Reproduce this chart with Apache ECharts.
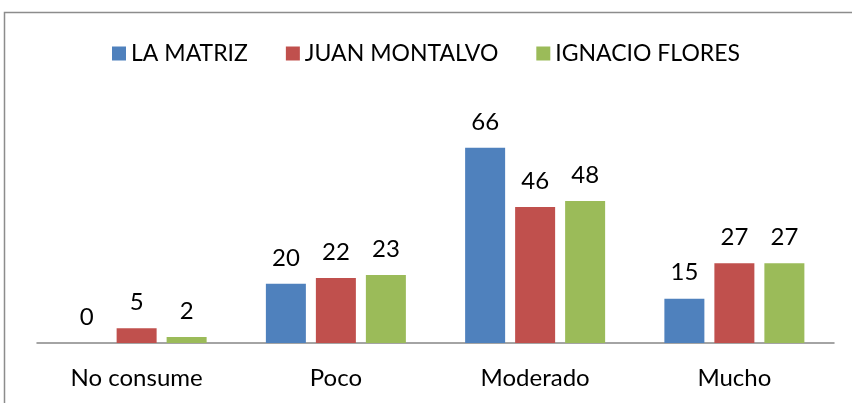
<!DOCTYPE html>
<html>
<head>
<meta charset="utf-8">
<script src="https://cdn.jsdelivr.net/npm/echarts@6/dist/echarts.min.js"></script>
<style>
  html, body { margin: 0; padding: 0; background: #fff; }
  #chart { width: 852px; height: 403px; }
</style>
</head>
<body>
<div id="chart"></div>
<script>
var categories = ['No consume', 'Poco', 'Moderado', 'Mucho'];
var laMatriz = [0, 20, 66, 15];
var juanMontalvo = [5, 22, 46, 27];
var ignacioFlores = [2, 23, 48, 27];

var chart = echarts.init(document.getElementById('chart'));

function bar(name, data, color) {
  return {
    name: name,
    type: 'bar',
    data: data,
    barWidth: 40,
    barGap: '25%',
    itemStyle: { color: color },
    label: {
      show: true,
      position: 'top',
      distance: 14,
      color: '#000',
      fontSize: 24,
      fontFamily: 'Lato'
    }
  };
}

var option = {
  animation: false,
  graphic: [{
    type: 'rect',
    shape: { x: 4.5, y: 12.5, width: 900, height: 500 },
    style: { fill: 'none', stroke: '#8c8c8c', lineWidth: 1.5 },
    silent: true
  }],
  legend: {
    top: 37,
    left: 'center',
    itemWidth: 14,
    itemHeight: 14,
    itemGap: 38,
    icon: 'rect',
    textStyle: { fontSize: 23, fontFamily: 'Lato', color: '#000' }
  },
  grid: { left: 37, right: 18, top: 136, bottom: 60 },
  xAxis: {
    type: 'category',
    data: categories,
    axisLine: { lineStyle: { color: '#878787', width: 1.5 } },
    axisTick: { show: false },
    axisLabel: { fontSize: 24, fontFamily: 'Lato', color: '#000', margin: 23 }
  },
  yAxis: {
    type: 'value',
    min: 0,
    max: 70,
    show: false
  },
  series: [
    bar('LA MATRIZ', laMatriz, '#4f81bd'),
    bar('JUAN MONTALVO', juanMontalvo, '#c0504d'),
    bar('IGNACIO FLORES', ignacioFlores, '#9bbb59')
  ]
};

chart.setOption(option);
</script>
</body>
</html>
